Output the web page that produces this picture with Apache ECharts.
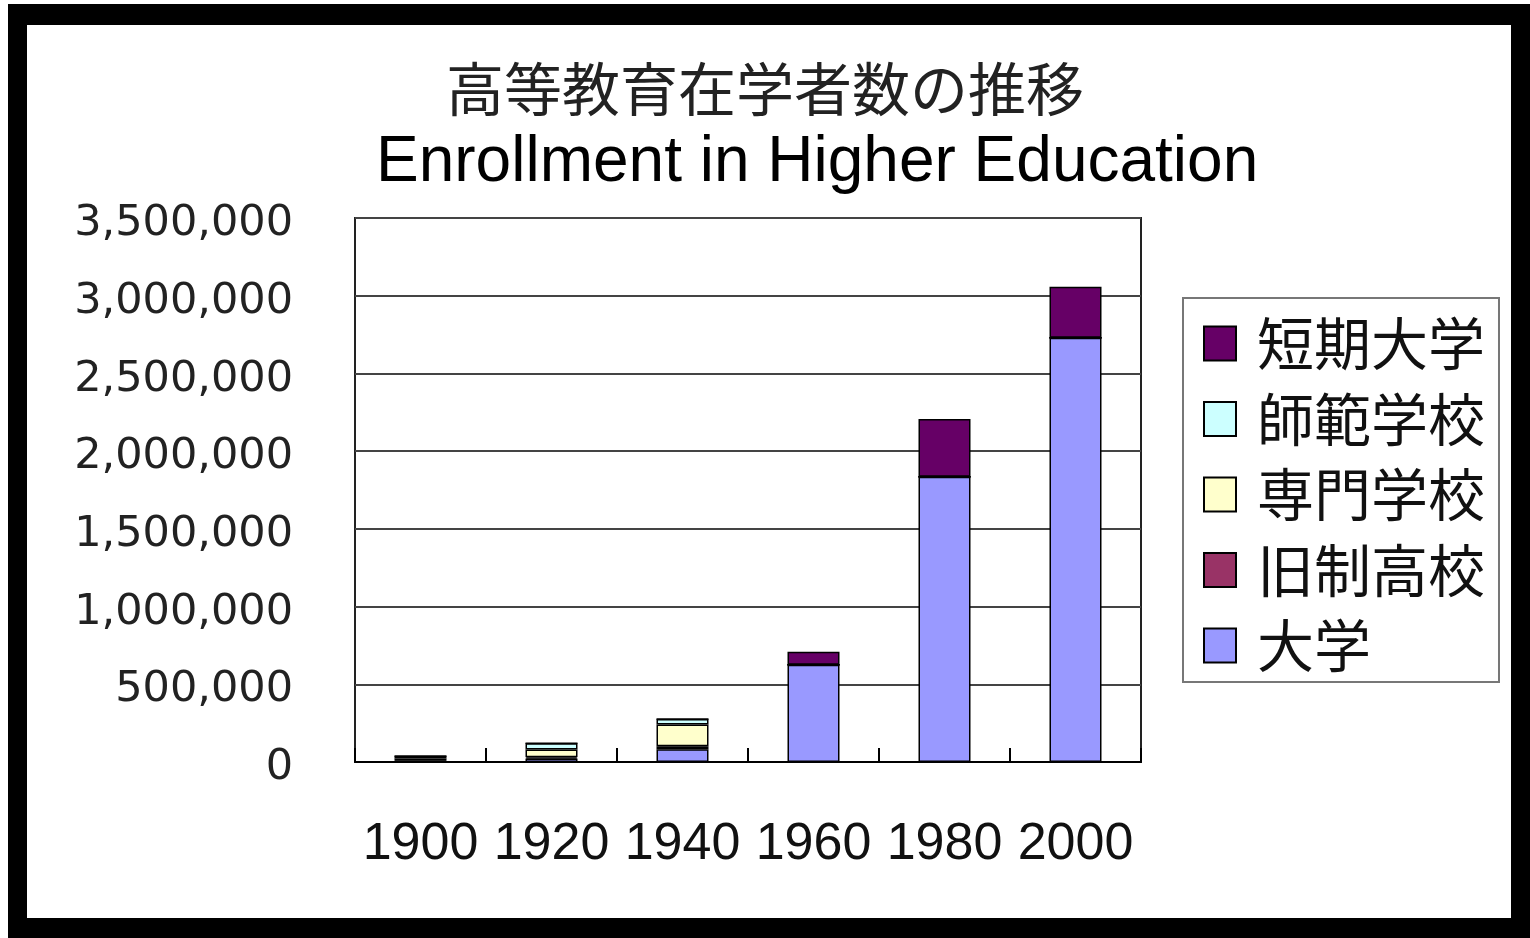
<!DOCTYPE html>
<html>
<head>
<meta charset="utf-8">
<script src="https://cdn.jsdelivr.net/npm/echarts@6/dist/echarts.min.js"></script>
<style>
html,body{margin:0;padding:0;background:#fff;}
#frame{position:absolute;left:8px;top:4px;width:1484px;height:893px;border-style:solid;border-color:#000;border-width:21px 19px 20px 19px;background:#fff;}
#chart{position:absolute;left:0;top:0;width:1530px;height:938px;}
</style>
</head>
<body>
<div id="frame"></div>
<div id="chart"></div>
<script>
const categories = ['1900','1920','1940','1960','1980','2000'];
const daigaku      = [3000, 22000, 82000, 626000, 1835000, 2730000];
const kyuseiKoko   = [5000, 9000, 20000, 0, 0, 0];
const senmonGakko  = [15000, 50000, 140000, 0, 0, 0];
const shihanGakko  = [15000, 40000, 35000, 0, 0, 0];
const tankiDaigaku = [0, 0, 0, 83000, 371000, 327000];
const seriesNames = ['大学','旧制高校','専門学校','師範学校','短期大学'];
const seriesColors = ['#9999ff','#993366','#ffffcc','#ccffff','#660066'];
const legendOrder = ['短期大学','師範学校','専門学校','旧制高校','大学'];
const titleJa = '高等教育在学者数の推移';
const titleEn = 'Enrollment in Higher Education';

const seriesData = [daigaku, kyuseiKoko, senmonGakko, shihanGakko, tankiDaigaku];
const chart = echarts.init(document.getElementById('chart'), null, {renderer:'canvas'});
chart.setOption({
  backgroundColor: 'transparent',
  animation: false,
  title: [
    {text: titleJa, left: 'center', top: 55,
     textStyle:{fontFamily:'"Noto Sans CJK JP"', fontSize:58, fontWeight:'normal', color:'#222'}},
    {text: titleEn, left: 371, top: 126,
     textStyle:{fontFamily:'"Liberation Sans", Arial', fontSize:64, fontWeight:'normal', color:'#000'}}
  ],
  legend: {
    data: legendOrder,
    orient: 'vertical',
    left: 1183, top: 298,
    backgroundColor: '#fff',
    borderColor: '#777', borderWidth: 2,
    padding: [17, 14, 8, 20],
    itemWidth: 32, itemHeight: 34, itemGap: 18.5,
    icon: 'rect',
    textStyle: {fontFamily:'"Noto Sans CJK JP"', fontSize:57, color:'#111', padding:[0,0,0,16]}
  },
  grid: {left: 355, right: 389, top: 218, bottom: 176, show: true, borderColor:'#222', borderWidth:2, backgroundColor:'#fff', containLabel:false},
  xAxis: {
    type: 'category', data: categories,
    axisLine: {lineStyle:{color:'#000', width:2}},
    axisTick: {show:true, inside:true, length:14, interval:0, lineStyle:{color:'#000', width:2}},
    axisLabel: {fontFamily:'"Liberation Sans", Arial', fontSize:52, color:'#111', margin:57, interval:0}
  },
  yAxis: {
    type: 'value', min: 0, max: 3500000, interval: 500000,
    axisLine: {show:false}, axisTick: {show:false},
    splitLine: {lineStyle:{color:'#444', width:2}},
    axisLabel: {fontFamily:'"DejaVu Sans"', fontSize:43, color:'#222', margin:62,
      verticalAlign:'top', lineHeight:12,
      formatter: v => v.toLocaleString('en-US')}
  },
  series: seriesNames.map((n,i) => ({
    name: n, type: 'bar', stack: 'total', data: seriesData[i], barWidth: 52,
    itemStyle: {color: seriesColors[i], borderColor:'#000', borderWidth:1.5}
  }))
});
</script>
</body>
</html>
